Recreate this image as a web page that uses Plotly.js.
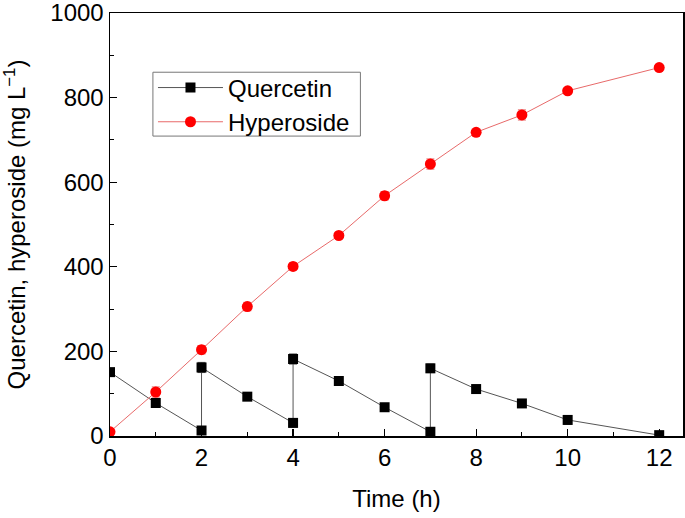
<!DOCTYPE html>
<html><head><meta charset="utf-8">
<script src="https://cdn.plot.ly/plotly-3.0.1.min.js"></script>
<style>body{margin:0;background:#fff}#chart{width:685px;height:518px}</style>
</head><body><div id="chart"></div>
<script>
const quercetinTime = [0, 1, 2, 2, 3, 4, 4, 5, 6, 7, 7, 8, 9, 10, 12];
const quercetinValue = [151, 78, 13, 162, 93, 31, 182, 130, 68, 10, 160, 111, 77, 38, 2];
const quercetinErr = [5, 5, 4, 12, 5, 10, 12, 4, 4, 4, 10, 4, 8, 10, 6];
const hyperosideTime = [0, 1, 2, 3, 4, 5, 6, 7, 8, 9, 10, 12];
const hyperosideValue = [10, 104, 204, 306, 401, 474, 568, 643, 718, 759, 816, 871];
const hyperosideErr = [4, 12, 10, 10, 8, 5, 10, 12, 5, 12, 5, 5];
const xTicks = [0, 2, 4, 6, 8, 10, 12];
const yTicks = [0, 200, 400, 600, 800, 1000];

const font = {family: 'Liberation Sans, Arial, sans-serif', color: '#000'};

const traces = [
  {x: quercetinTime, y: quercetinValue, name: 'Quercetin', type: 'scatter', mode: 'lines+markers',
   line: {color: '#555', width: 1}, marker: {symbol: 'square', size: 10, color: '#000'},
   error_y: {type: 'data', array: quercetinErr, color: '#555', thickness: 1, width: 4}},
  {x: hyperosideTime, y: hyperosideValue, name: 'Hyperoside', type: 'scatter', mode: 'lines+markers',
   line: {color: '#e86a6a', width: 1}, marker: {symbol: 'circle', size: 11, color: '#ff0000'},
   error_y: {type: 'data', array: hyperosideErr, color: '#e86a6a', thickness: 1, width: 4}}
];

const layout = {
  width: 685, height: 518,
  margin: {l: 110, r: 2, t: 13, b: 82},
  paper_bgcolor: '#fff', plot_bgcolor: '#fff',
  showlegend: true,
  legend: {x: 0.075, y: 0.876, xanchor: 'left', yanchor: 'top', borderwidth: 0,
    bgcolor: 'rgba(0,0,0,0)', font: Object.assign({size: 24}, font), tracegroupgap: 0, itemwidth: 65},
  shapes: [{type: 'rect', xref: 'paper', yref: 'paper', x0: 0.0749, x1: 0.437, y0: 0.709, y1: 0.86,
    line: {color: '#777', width: 1}, fillcolor: 'rgba(0,0,0,0)', layer: 'above'}],
  xaxis: {range: [0, 12.52], tickvals: xTicks, ticktext: xTicks.map(String), ticks: 'inside', ticklen: 7,
    tickwidth: 1.2, tickcolor: '#000', showline: true, linecolor: '#000', linewidth: 1.5, mirror: true,
    showgrid: false, zeroline: false, tickfont: Object.assign({size: 24}, font), ticklabeloverflow: 'allow',
    minor: {dtick: 1, ticks: 'inside', ticklen: 4, tickcolor: '#000', tickwidth: 1, showgrid: false},
    title: {text: 'Time (h)', font: Object.assign({size: 24}, font), standoff: 20}},
  yaxis: {range: [0, 1000], tickvals: yTicks, ticktext: yTicks.map(String), ticks: 'inside', ticklen: 7,
    tickwidth: 1.2, tickcolor: '#000', showline: true, linecolor: '#000', linewidth: 1.5, mirror: true,
    showgrid: false, zeroline: false, tickfont: Object.assign({size: 24}, font), ticklabeloverflow: 'allow',
    minor: {dtick: 100, ticks: 'inside', ticklen: 4, tickcolor: '#000', tickwidth: 1, showgrid: false},
    title: {text: 'Quercetin, hyperoside (mg L<sup>−1</sup>)', font: Object.assign({size: 24}, font), standoff: 27}}
};

Plotly.newPlot('chart', traces, layout, {displayModeBar: false, staticPlot: true});
</script></body></html>
